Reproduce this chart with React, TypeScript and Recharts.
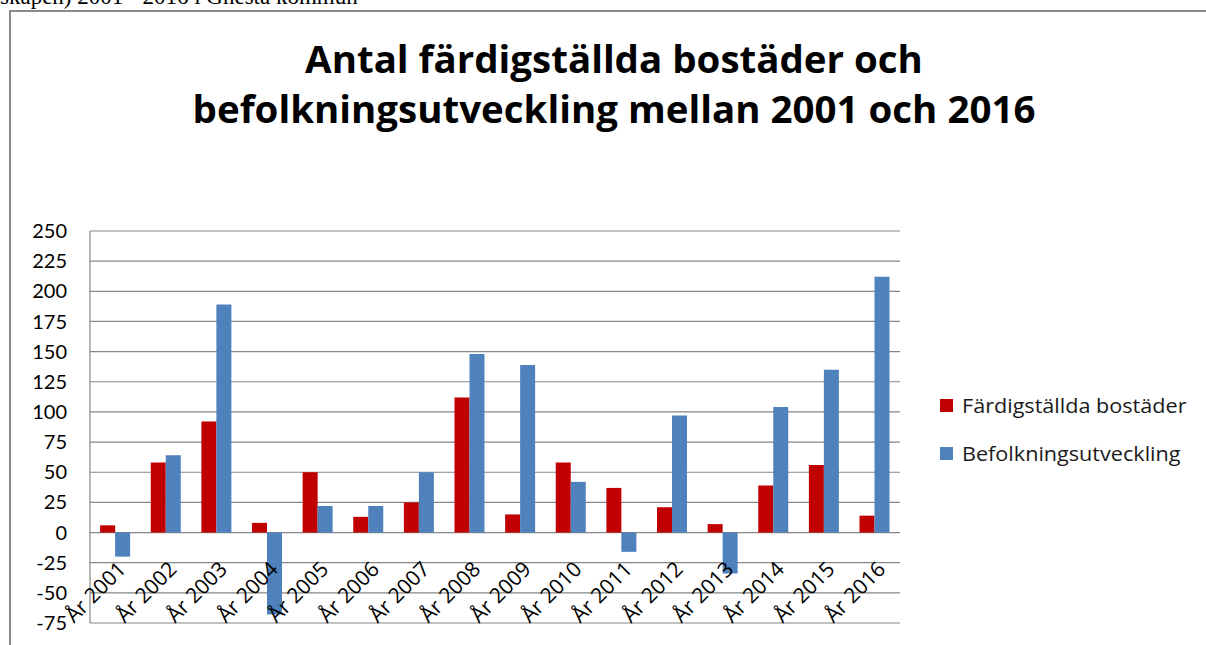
import React from 'react';
import { BarChart, Bar, XAxis, YAxis, CartesianGrid } from 'recharts';

const years = [
    'År 2001', 'År 2002', 'År 2003', 'År 2004', 'År 2005', 'År 2006', 'År 2007', 'År 2008',
    'År 2009', 'År 2010', 'År 2011', 'År 2012', 'År 2013', 'År 2014', 'År 2015', 'År 2016',
];
const completedHomes = [6, 58, 92, 8, 50, 13, 25, 112, 15, 58, 37, 21, 7, 39, 56, 14];
const populationChange = [-20, 64, 189, -68, 22, 22, 50, 148, 139, 42, -16, 97, -34, 104, 135, 212];
const yTicks = [-75, -50, -25, 0, 25, 50, 75, 100, 125, 150, 175, 200, 225, 250];
const seriesNames = ['Färdigställda bostäder', 'Befolkningsutveckling'];

const RED = '#c00000';
const BLUE = '#4f81bd';
const GRID = '#868686';
const FONT = 'Lato, "Open Sans", sans-serif';
const WIDE = '"Open Sans", Lato, sans-serif';

const W = 1206;
const H = 645;
const PLOT_TOP = 231;
const PLOT_BOTTOM = 623;
const PLOT_LEFT = 90;
const PLOT_RIGHT = 900;
const Y_MIN = yTicks[0];
const Y_MAX = yTicks[yTicks.length - 1];
// category labels hang from the zero line, like in Excel
const zeroY = PLOT_TOP + (Y_MAX / (Y_MAX - Y_MIN)) * (PLOT_BOTTOM - PLOT_TOP);

const YearTick = (props: any) => {
    const { x, payload } = props;
    const ax = x + 12;
    const ay = zeroY + 38;
    return (
        <text
            x={ax}
            y={ay}
            transform={`rotate(-45, ${ax}, ${ay})`}
            textAnchor="end"
            fill="#000"
            fontSize={21}
            fontFamily={WIDE}
        >
            {payload.value}
        </text>
    );
};

export default function App() {
    const data = years.map((y, i) => ({
        year: y,
        homes: completedHomes[i],
        pop: populationChange[i],
    }));

    return (
        <div style={{ position: 'absolute', left: 0, top: 0, width: W, height: H, overflow: 'hidden', background: '#fff' }}>
            <div
                style={{
                    position: 'absolute', left: 0, top: -16, fontFamily: '"Liberation Serif", serif',
                    fontSize: 23, whiteSpace: 'nowrap', color: '#000',
                }}
            >
                skapen) 2001 - 2016 i Gnesta kommun
            </div>
            <div
                style={{
                    position: 'absolute', left: 9, top: 10, width: W, height: H,
                    borderLeft: '2px solid #8a8a8a', borderTop: '2px solid #8a8a8a',
                }}
            />
            <div
                style={{
                    position: 'absolute', left: 0, top: 34, width: 1228, textAlign: 'center',
                    fontFamily: WIDE, fontWeight: 700, fontSize: 37, lineHeight: '50px', color: '#000',
                    transform: 'scaleX(1.04)', transformOrigin: '614px 0',
                }}
            >
                Antal färdigställda bostäder och
                <br />
                befolkningsutveckling mellan 2001 och 2016
            </div>
            <div style={{ position: 'absolute', left: 0, top: 0 }}>
                <BarChart
                    width={W}
                    height={H}
                    data={data}
                    margin={{ top: PLOT_TOP, right: W - PLOT_RIGHT, bottom: 0, left: 0 }}
                    barCategoryGap="20%"
                    barGap={0}
                >
                    <CartesianGrid vertical={false} stroke={GRID} strokeWidth={1.2} />
                    <XAxis
                        dataKey="year"
                        axisLine={false}
                        tickLine={false}
                        interval={0}
                        height={H - PLOT_BOTTOM}
                        tick={<YearTick />}
                    />
                    <YAxis
                        width={PLOT_LEFT}
                        domain={[Y_MIN, Y_MAX]}
                        ticks={yTicks}
                        interval={0}
                        axisLine={{ stroke: GRID, strokeWidth: 1.2 }}
                        tickLine={false}
                        tickMargin={17}
                        tick={{ fill: '#000', fontSize: 20, fontFamily: FONT }}
                    />
                    <Bar dataKey="homes" name={seriesNames[0]} fill={RED} isAnimationActive={false} />
                    <Bar dataKey="pop" name={seriesNames[1]} fill={BLUE} isAnimationActive={false} />
                </BarChart>
            </div>
            {seriesNames.map((name, i) => (
                <div
                    key={name}
                    style={{
                        position: 'absolute', left: 940, top: 395 + i * 48, height: 20,
                        display: 'flex', alignItems: 'center', fontFamily: WIDE, fontSize: 20,
                        color: '#1a1a1a', whiteSpace: 'nowrap',
                    }}
                >
                    <span style={{ width: 13, height: 13, background: i === 0 ? RED : BLUE, marginRight: 9, display: 'inline-block' }} />
                    <span style={{ display: 'inline-block', transform: 'scaleX(1.08)', transformOrigin: '0 0' }}>{name}</span>
                </div>
            ))}
        </div>
    );
}
